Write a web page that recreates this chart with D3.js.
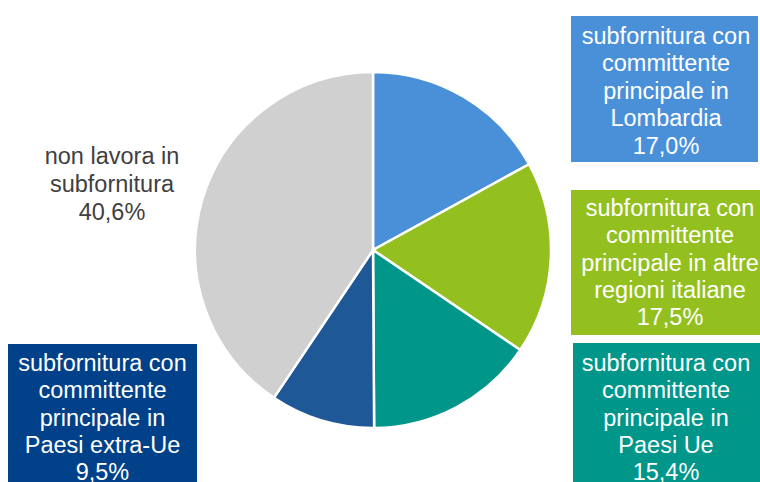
<!DOCTYPE html>
<html>
<head>
<meta charset="utf-8">
<script src="https://cdn.jsdelivr.net/npm/d3@7"></script>
<style>
  html, body { margin: 0; padding: 0; background: #ffffff; }
  svg { display: block; }
  text { font-family: "Liberation Sans", Arial, sans-serif; }
</style>
</head>
<body>
<svg id="chart" width="760" height="482"></svg>
<script>
// Slices, clockwise from 12 o'clock
const categories = [
  "subfornitura con committente principale in Lombardia",
  "subfornitura con committente principale in altre regioni italiane",
  "subfornitura con committente principale in Paesi Ue",
  "subfornitura con committente principale in Paesi extra-Ue",
  "non lavora in subfornitura"
];
const values = [17.0, 17.5, 15.4, 9.5, 40.6];
const valueLabels = ["17,0%", "17,5%", "15,4%", "9,5%", "40,6%"];
const labelLines = [
  ["subfornitura con", "committente", "principale in", "Lombardia"],
  ["subfornitura con", "committente", "principale in altre", "regioni italiane"],
  ["subfornitura con", "committente", "principale in", "Paesi Ue"],
  ["subfornitura con", "committente", "principale in", "Paesi extra-Ue"],
  ["non lavora in", "subfornitura"]
];
const sliceColors = ["#4a90d9", "#93c01f", "#009689", "#1f5896", "#d0d0d0"];
const boxColors = ["#4a90d9", "#93c01f", "#009689", "#004189", null];

const svg = d3.select("#chart");
const cx = 373, cy = 250, radius = 178;

const pie = d3.pie().sort(null).value(d => d.value);
const arc = d3.arc().innerRadius(0).outerRadius(radius);

const data = categories.map((c, i) => ({
  name: c, value: values[i], label: valueLabels[i], lines: labelLines[i],
  color: sliceColors[i], box: boxColors[i]
}));

const g = svg.append("g").attr("transform", `translate(${cx},${cy})`);
g.selectAll("path")
  .data(pie(data))
  .join("path")
  .attr("d", arc)
  .attr("fill", d => d.data.color)
  .attr("stroke", "#ffffff")
  .attr("stroke-width", 2.5)
  .attr("stroke-linejoin", "round");

// Data label boxes: [x, y, width, height, text centre x, first baseline, line step]
const labelLayout = [
  [571, 16, 187, 146, 666, 43.5, 27.6],
  [571, 190, 200, 145, 670, 216, 27.3],
  [573, 343, 200, 150, 666, 371, 27.3],
  [8, 344, 189, 150, 102.5, 371, 27.3],
  [null, null, null, null, 112, 163.5, 28]
];

const fontSize = 23.5;
data.forEach((d, i) => {
  const [bx, by, bw, bh, tx, ty, step] = labelLayout[i];
  const lg = svg.append("g");
  if (d.box) {
    lg.append("rect")
      .attr("x", bx).attr("y", by).attr("width", bw).attr("height", bh)
      .attr("fill", d.box);
  }
  const lines = d.lines.concat([d.label]);
  const t = lg.append("text")
    .attr("text-anchor", "middle")
    .attr("font-size", fontSize)
    .attr("fill", d.box ? "#ffffff" : "#404040");
  lines.forEach((ln, k) => {
    t.append("tspan").attr("x", tx).attr("y", ty + k * step).text(ln);
  });
});
</script>
</body>
</html>
